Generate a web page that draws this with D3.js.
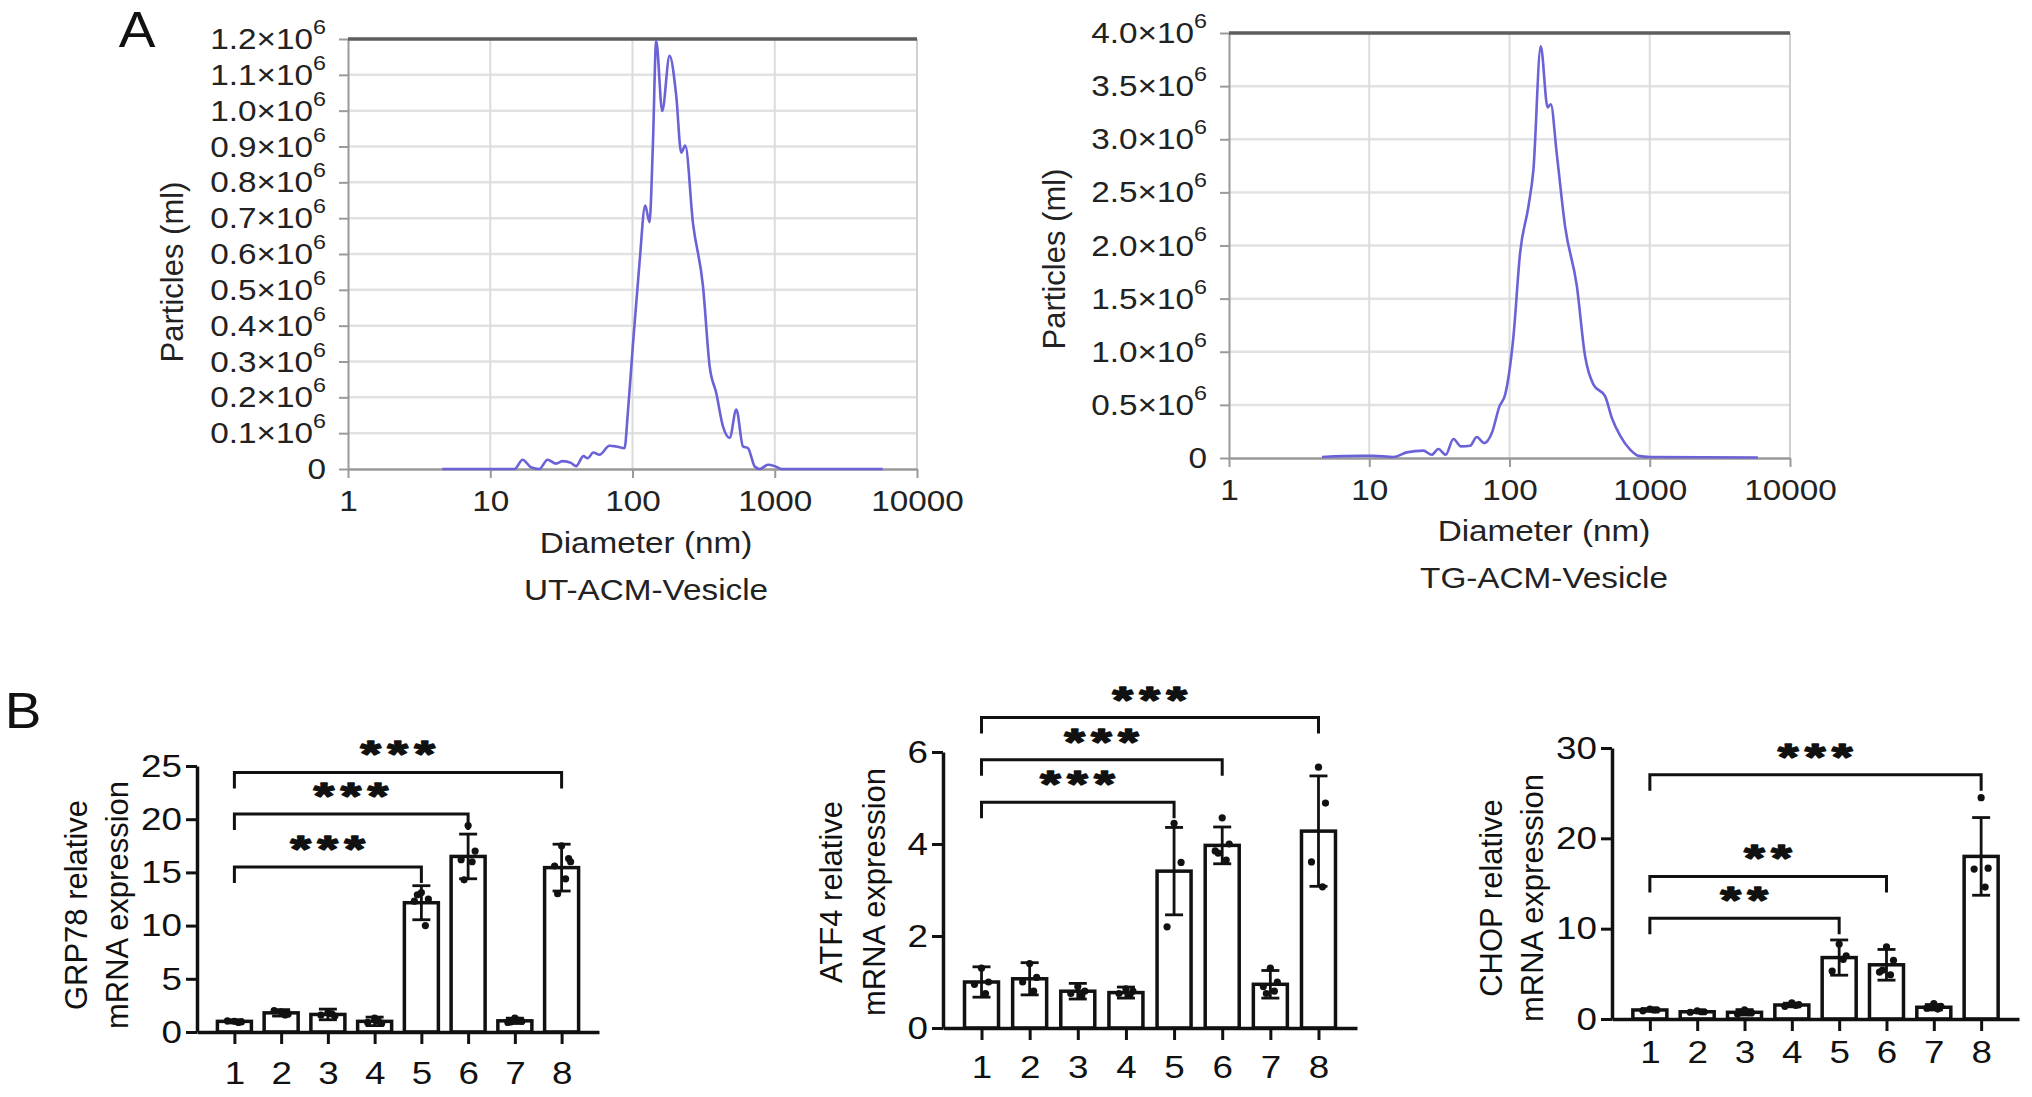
<!DOCTYPE html>
<html>
<head>
<meta charset="utf-8">
<script src="https://cdn.jsdelivr.net/npm/d3@7"></script>
<style>
  body { margin: 0; background: #fff; }
  svg { display: block; }
  text { font-family: "Liberation Sans", Arial, Helvetica, sans-serif; }
</style>
</head>
<body>
<script>
// ---- panel A: particle size distribution (NTA) ----
const utDiam = [4.6, 14.8, 16.9, 19.3, 22.1, 25.3, 29.0, 32.3, 37.0, 40.1, 45.2, 48.4, 53.1, 58.6, 68.9, 76.8, 87.9,
  92.7, 100.5, 112, 122.8, 131.7, 139, 146.8, 161.8, 182.2, 203, 220, 235, 266, 313, 348.5, 388, 432.5, 482, 537,
  598, 649, 723, 784, 897, 1000, 1114, 5750]
const utCount = [0, 0, 26000, 5000, 0, 26000, 15000, 22000, 17000, 8000, 36000, 30000, 46000, 40000, 65000, 63000, 58000,
  156000, 342000, 575000, 735000, 689000, 901000, 1194000, 999000, 1153000, 1041000, 883000, 903000, 687000, 510000, 287000,
  212000, 119000, 87000, 166000, 63000, 58000, 7000, 0, 12000, 8000, 0, 0]

const tgDiam = [4.6, 8.6, 10.7, 14.9, 18.5, 24.3, 27.9, 31.1, 35.1, 39.8, 45.2, 52.4, 58.4, 66.2, 74.8, 84.8, 93.1,
  106.7, 119, 136.5, 148, 167, 187, 197, 217, 249, 302, 346, 397, 481, 537, 615, 725, 830, 1006, 5900]
const tgCount = [10000, 20000, 20000, 10000, 53000, 69000, 30000, 85000, 30000, 179000, 109000, 115000, 197000, 141000,
  235000, 486000, 596000, 1145000, 1930000, 2370000, 2710000, 3875000, 3300000, 3330000, 2870000, 2180000, 1620000,
  957000, 690000, 580000, 377000, 210000, 78000, 20000, 10000, 5000]

const diamTicks = [1, 10, 100, 1000, 10000]
const utTicks = d3.range(0, 13).map(i => i * 100000)
const tgTicks = d3.range(0, 9).map(i => i * 500000)

// ---- panel B: relative mRNA expression ----
const groups = ['1', '2', '3', '4', '5', '6', '7', '8']

const grp78Mean = [1.0, 1.8, 1.65, 1.0, 12.15, 16.5, 1.05, 15.45]
const grp78Sd = [0.15, 0.3, 0.5, 0.4, 1.6, 2.1, 0.25, 2.2]
const grp78Points = [[1.0, 0.95, 1.05, 0.9], [1.9, 1.7, 2.0, 1.6], [1.8, 1.5, 1.6, 1.7], [1.3, 0.8, 0.9, 1.0],
  [13.1, 12.5, 12.3, 10.0, 12.9], [19.4, 17.0, 16.2, 16.0, 14.3], [1.3, 1.0, 0.9, 1.1, 0.95],
  [17.5, 16.3, 15.6, 14.4, 13.0, 16.0]]
const grp78Sig = [
  {from: '1', to: '8', y: 24.4, label: '***'},
  {from: '1', to: '6', y: 20.5, label: '***'},
  {from: '1', to: '5', y: 15.5, label: '***'}
]

const atf4Mean = [1.0, 1.07, 0.8, 0.77, 3.41, 3.97, 0.95, 4.28]
const atf4Sd = [0.33, 0.35, 0.17, 0.12, 0.95, 0.4, 0.3, 1.2]
const atf4Points = [[1.3, 1.0, 0.95, 0.75], [1.4, 1.1, 1.0, 0.8], [0.9, 0.8, 0.75, 0.7], [0.85, 0.8, 0.75, 0.72],
  [4.45, 3.6, 2.2], [4.57, 4.0, 3.85, 3.65, 3.8], [1.3, 1.0, 0.9, 0.8, 0.75], [5.67, 4.89, 3.61, 3.07]]
const atf4Sig = [
  {from: '1', to: '8', y: 6.75, label: '***'},
  {from: '1', to: '6', y: 5.83, label: '***'},
  {from: '1', to: '5', y: 4.91, label: '***'}
]

const chopMean = [1.0, 0.8, 0.74, 1.55, 6.8, 6.0, 1.3, 18.0]
const chopSd = [0.15, 0.1, 0.3, 0.2, 1.95, 1.7, 0.3, 4.3]
const chopPoints = [[1.1, 1.0, 0.9, 1.0], [0.9, 0.8, 0.75, 0.8], [1.0, 0.7, 0.55, 0.7], [1.8, 1.6, 1.4, 1.5],
  [8.3, 7.0, 5.3, 6.6], [8.0, 6.5, 5.2, 4.9, 5.4], [1.7, 1.4, 1.2, 1.1, 1.3], [24.5, 16.7, 16.6, 14.6]]
const chopSig = [
  {from: '1', to: '8', y: 27.05, label: '***'},
  {from: '1', to: '6', y: 15.78, label: '**'},
  {from: '1', to: '5', y: 11.16, label: '**'}
]

const svg = d3.select('body').append('svg')
  .attr('width', 2032)
  .attr('height', 1097)

// the source figure is a bit wider than tall, so text is stretched horizontally
function stretch(sel, sx) {
  sel.each(function () {
    const t = d3.select(this)
    const x = +t.attr('x') || 0, y = +t.attr('y') || 0
    t.attr('x', null).attr('y', null).attr('transform', `translate(${x},${y}) scale(${sx},1)`)
  })
}

// panel letters
svg.append('text').attr('transform', 'translate(137,47) scale(1.1,1)').attr('text-anchor', 'middle')
  .attr('font-size', 50).attr('fill', '#111').text('A')
svg.append('text').attr('transform', 'translate(23,728) scale(1.1,1)').attr('text-anchor', 'middle')
  .attr('font-size', 50).attr('fill', '#111').text('B')

const sciFmt = d3.format('.1f')
const A_FONT = 30, A_SX = 1.11

function sizePanel(cfg) {
  const x = d3.scaleLog().domain([1, 10000]).range([cfg.left, cfg.right])
  const y = d3.scaleLinear().domain([0, cfg.yMax]).range([cfg.bottom, cfg.top])
  const g = svg.append('g')

  // grid
  g.append('g').selectAll('line').data(cfg.yTicks.slice(1)).join('line')
    .attr('x1', cfg.left).attr('x2', cfg.right)
    .attr('y1', d => y(d)).attr('y2', d => y(d))
    .attr('stroke', '#e2e2e2').attr('stroke-width', 2.5)
  g.append('g').selectAll('line').data([10, 100, 1000]).join('line')
    .attr('x1', d => x(d)).attr('x2', d => x(d))
    .attr('y1', cfg.top).attr('y2', cfg.bottom)
    .attr('stroke', '#dcdcdc').attr('stroke-width', 2)
  g.append('line').attr('x1', cfg.right).attr('x2', cfg.right)
    .attr('y1', cfg.top).attr('y2', cfg.bottom)
    .attr('stroke', '#d0d0d0').attr('stroke-width', 2)

  // axes
  const ax = g.append('g').attr('transform', `translate(0,${cfg.bottom})`)
    .call(d3.axisBottom(x).tickValues(diamTicks).tickFormat(d3.format('d'))
      .tickSize(9).tickSizeOuter(0).tickPadding(12))
  ax.select('.domain').attr('stroke', '#9a9a9a').attr('stroke-width', 2.5)
  ax.selectAll('.tick line').attr('stroke', '#9a9a9a').attr('stroke-width', 2)
  ax.selectAll('.tick text').attr('font-size', A_FONT).attr('fill', '#222')
    .attr('font-family', '"Liberation Sans", Arial, sans-serif')
    .call(stretch, A_SX)

  const ay = g.append('g').attr('transform', `translate(${cfg.left},0)`)
    .call(d3.axisLeft(y).tickValues(cfg.yTicks).tickSize(9).tickSizeOuter(0).tickPadding(13))
  ay.select('.domain').attr('stroke', '#9a9a9a').attr('stroke-width', 2)
  ay.selectAll('.tick line').attr('stroke', '#9a9a9a').attr('stroke-width', 2)
  ay.selectAll('.tick text')
    .attr('font-size', A_FONT).attr('fill', '#222')
    .attr('font-family', '"Liberation Sans", Arial, sans-serif')
    .each(function (d) {
      const t = d3.select(this)
      t.text(null)
      if (d === 0) { t.text('0'); return }
      t.append('tspan').text(sciFmt(d / 1e6) + '×10')
      t.append('tspan').attr('dy', -0.5 * A_FONT).attr('font-size', 0.7 * A_FONT).text('6')
    })
    .call(stretch, A_SX)

  // top border
  g.append('line').attr('x1', cfg.left).attr('x2', cfg.right)
    .attr('y1', cfg.top).attr('y2', cfg.top)
    .attr('stroke', '#5e5e5e').attr('stroke-width', 3.5)

  // distribution line
  const line = d3.line()
    .x(d => x(d[0]))
    .y(d => y(d[1]))
    .curve(d3.curveMonotoneX)
  g.append('path')
    .datum(d3.zip(cfg.diam, cfg.count))
    .attr('d', line)
    .attr('fill', 'none')
    .attr('stroke', '#6a62d6')
    .attr('stroke-width', 2.6)
    .attr('stroke-linejoin', 'round')

  // titles
  g.append('text')
    .attr('transform', `translate(${cfg.yTitleX},${cfg.yTitleY}) rotate(-90)`)
    .attr('text-anchor', 'middle').attr('dominant-baseline', 'central')
    .attr('font-size', 31).attr('fill', '#222').text('Particles (ml)')
  g.append('text')
    .attr('transform', `translate(${cfg.xTitleX},${cfg.xTitleY}) scale(${A_SX},1)`)
    .attr('text-anchor', 'middle').attr('dominant-baseline', 'central')
    .attr('font-size', A_FONT).attr('fill', '#222').text('Diameter (nm)')
  g.append('text')
    .attr('transform', `translate(${cfg.xTitleX},${cfg.nameY}) scale(${A_SX},1)`)
    .attr('text-anchor', 'middle').attr('dominant-baseline', 'central')
    .attr('font-size', A_FONT).attr('fill', '#222').text(cfg.name)
}

sizePanel({
  diam: utDiam, count: utCount, yTicks: utTicks, yMax: 1200000,
  left: 348, right: 917, top: 39, bottom: 469,
  yTitleX: 172, yTitleY: 272, xTitleX: 646, xTitleY: 543, nameY: 590, name: 'UT-ACM-Vesicle'
})
sizePanel({
  diam: tgDiam, count: tgCount, yTicks: tgTicks, yMax: 4000000,
  left: 1229, right: 1790, top: 33, bottom: 458,
  yTitleX: 1054, yTitleY: 259, xTitleX: 1544, xTitleY: 531, nameY: 578, name: 'TG-ACM-Vesicle'
})

const jitter = [0, 7, -7, 4, -4, 9]
const B_FONT = 32, B_SX = 1.15

function barPanel(cfg) {
  const x = d3.scalePoint().domain(groups).range([cfg.left, cfg.right]).padding(0.8)
  const y = d3.scaleLinear().domain([0, cfg.yMax]).range([cfg.bottom, cfg.top])
  const g = svg.append('g')
  const bw = 34

  g.append('g').selectAll('rect').data(cfg.mean).join('rect')
    .attr('x', (d, i) => x(groups[i]) - bw / 2)
    .attr('y', d => y(d))
    .attr('width', bw)
    .attr('height', d => y(0) - y(d))
    .attr('fill', '#fff')
    .attr('stroke', '#111')
    .attr('stroke-width', 3.5)

  // individual replicates
  const pts = cfg.points.flatMap((arr, i) => arr.map((v, j) => ({g: groups[i], v, j})))
  g.append('g').selectAll('circle').data(pts).join('circle')
    .attr('cx', d => x(d.g) + jitter[d.j % jitter.length])
    .attr('cy', d => y(d.v))
    .attr('r', 3.6)
    .attr('fill', '#111')

  // error bars (SD)
  const eb = g.append('g').attr('stroke', '#111').attr('stroke-width', 2.8)
  cfg.mean.forEach((m, i) => {
    const cx = x(groups[i]), s = cfg.sd[i]
    eb.append('line').attr('x1', cx).attr('x2', cx).attr('y1', y(m - s)).attr('y2', y(m + s))
    eb.append('line').attr('x1', cx - 9).attr('x2', cx + 9).attr('y1', y(m - s)).attr('y2', y(m - s))
    eb.append('line').attr('x1', cx - 9).attr('x2', cx + 9).attr('y1', y(m + s)).attr('y2', y(m + s))
  })

  // axes
  const ax = g.append('g').attr('transform', `translate(0,${cfg.bottom})`)
    .call(d3.axisBottom(x).tickSize(12).tickSizeOuter(0).tickPadding(cfg.xLabelPad))
  const ay = g.append('g').attr('transform', `translate(${cfg.left},0)`)
    .call(d3.axisLeft(y).tickValues(cfg.yTicks).tickFormat(d3.format('d'))
      .tickSize(11).tickSizeOuter(0).tickPadding(4))
  for (const a of [ax, ay]) {
    a.select('.domain').attr('stroke', '#111').attr('stroke-width', 3.5)
    a.selectAll('.tick line').attr('stroke', '#111').attr('stroke-width', 3)
    a.selectAll('.tick text').attr('font-size', B_FONT).attr('fill', '#111')
      .attr('font-family', '"Liberation Sans", Arial, sans-serif')
      .call(stretch, B_SX)
  }

  // y title, two lines
  cfg.title.forEach((t, i) => {
    g.append('text')
      .attr('transform', `translate(${cfg.titleX[i]},${cfg.titleY}) rotate(-90)`)
      .attr('text-anchor', 'middle').attr('dominant-baseline', 'central')
      .attr('font-size', 31).attr('fill', '#111').text(t)
  })

  // significance brackets; stars widened rather than enlarged so stacked rows keep clear of each other
  const sg = g.append('g')
  cfg.sig.forEach(s => {
    const x1 = x(s.from), x2 = x(s.to), yy = y(s.y)
    sg.append('path')
      .attr('d', `M${x1},${yy + 16}V${yy}H${x2}V${yy + 16}`)
      .attr('fill', 'none').attr('stroke', '#111').attr('stroke-width', 3)
    sg.append('text')
      .attr('transform', `translate(${(x1 + x2) / 2 + 3},${yy - 5}) scale(1.45,1.05)`)
      .attr('text-anchor', 'middle')
      .attr('font-size', 36).attr('font-weight', 'bold')
      .attr('letter-spacing', 4.6)
      .attr('fill', '#111')
      .attr('stroke', '#111').attr('stroke-width', 1.6).attr('stroke-linejoin', 'round')
      .text(s.label)
  })
}

barPanel({
  mean: grp78Mean, sd: grp78Sd, points: grp78Points, sig: grp78Sig,
  yMax: 25, yTicks: [0, 5, 10, 15, 20, 25],
  left: 197, right: 599, top: 766, bottom: 1032, xLabelPad: 17,
  title: ['GRP78 relative', 'mRNA expression'], titleX: [76, 117], titleY: 905
})
barPanel({
  mean: atf4Mean, sd: atf4Sd, points: atf4Points, sig: atf4Sig,
  yMax: 6, yTicks: [0, 2, 4, 6],
  left: 943, right: 1357, top: 752, bottom: 1028, xLabelPad: 15,
  title: ['ATF4 relative', 'mRNA expression'], titleX: [831, 874], titleY: 892
})
barPanel({
  mean: chopMean, sd: chopSd, points: chopPoints, sig: chopSig,
  yMax: 30, yTicks: [0, 10, 20, 30],
  left: 1612, right: 2019, top: 748, bottom: 1019, xLabelPad: 9,
  title: ['CHOP relative', 'mRNA expression'], titleX: [1491, 1532], titleY: 898
})
</script>
</body>
</html>
